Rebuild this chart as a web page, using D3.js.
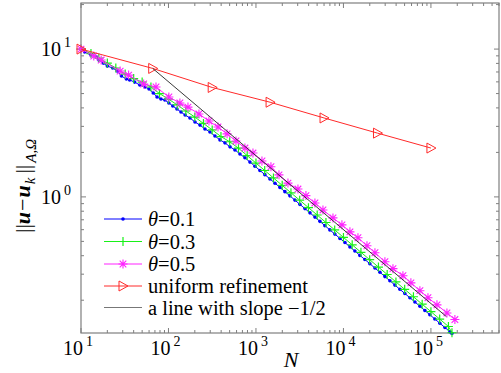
<!DOCTYPE html>
<html>
<head>
<meta charset="utf-8">
<script src="https://cdn.jsdelivr.net/npm/d3@7"></script>
</head>
<body style="margin:0">
<svg id="chart" width="501" height="373"></svg>
<script>
// adaptive refinement, theta = 0.1
const nTheta01 = [10, 11, 13, 15, 16, 18, 20, 23, 26, 29, 33, 36, 41, 47, 54, 60, 67, 74, 82, 91,
  101, 112, 125, 139, 155, 176, 201, 229, 261, 298, 340, 388, 442, 505, 575, 656, 748, 853,
  973, 1110, 1265, 1445, 1648, 1879, 2143, 2443, 2786, 3177, 3631, 4140, 4721, 5383, 6138, 6998,
  7980, 9120, 10400, 11860, 13520, 15420, 17580, 20050, 22910, 26120, 29790, 33960, 38730, 44160,
  50350, 57540, 65610, 74820, 85310, 97270, 110900, 126500, 144500, 164800, 173800];
const errTheta01 = [10.0, 9.55, 9.11, 8.83, 8.43, 8.04, 7.67, 7.45, 7.10, 6.57, 6.27, 6.18, 5.98, 5.71, 5.54, 5.37, 5.05, 4.74, 4.59, 4.52,
  4.32, 4.12, 3.93, 3.75, 3.58, 3.42, 3.21, 3.06, 2.88, 2.75, 2.58, 2.43, 2.32, 2.18, 2.08, 1.95, 1.84, 1.72,
  1.613, 1.510, 1.414, 1.323, 1.238, 1.159, 1.085, 1.016, 0.951, 0.890, 0.833, 0.780, 0.730, 0.683, 0.639, 0.598,
  0.560, 0.524, 0.491, 0.459, 0.430, 0.402, 0.377, 0.353, 0.330, 0.309, 0.289, 0.271, 0.253, 0.237,
  0.222, 0.2077, 0.1944, 0.1820, 0.1703, 0.1594, 0.1492, 0.1397, 0.1307, 0.1224, 0.119];

// theta = 0.3
const nTheta03 = [10, 13, 16, 20, 25, 32, 40, 50, 63, 79, 100, 126, 158, 200, 251, 316, 398, 501, 631, 794,
  1000, 1259, 1585, 1995, 2512, 3162, 3981, 5012, 6310, 7943, 10000, 12590, 15850, 19950, 25120, 31620,
  39810, 50120, 63100, 79430, 100000, 125900, 158500, 174000];
const errTheta03 = [10.0, 9.33, 8.69, 8.04, 7.45, 6.78, 6.32, 5.98, 5.54, 5.00, 4.59, 4.19, 3.81, 3.47, 3.14, 2.84, 2.56, 2.36, 2.135, 1.902,
  1.693, 1.509, 1.344, 1.197, 1.066, 0.950, 0.846, 0.754, 0.671, 0.598, 0.532, 0.474, 0.422, 0.376, 0.335, 0.2986,
  0.2660, 0.2369, 0.2110, 0.1879, 0.1674, 0.1491, 0.1328, 0.1205];

// theta = 0.5
const nTheta05 = [10, 14, 17, 28, 35, 52, 72, 101, 135, 167, 223, 290, 368, 467, 591, 748, 924, 1171, 1483, 1832,
  2321, 3020, 3726, 4720, 5830, 7590, 9610, 11860, 14650, 18570, 22910, 29790, 36810, 47860, 59020, 74820,
  92470, 117200, 152400, 187900];
const errTheta05 = [10.0, 8.97, 8.43, 7.10, 6.67, 5.81, 5.54, 4.74, 4.32, 4.05, 3.64, 3.26, 2.97, 2.67, 2.39, 2.14, 1.98, 1.75, 1.60, 1.41,
  1.24, 1.13, 1.02, 0.910, 0.816, 0.721, 0.647, 0.580, 0.529, 0.467, 0.419, 0.364, 0.327, 0.293, 0.262, 0.232,
  0.208, 0.186, 0.164, 0.148];

// uniform refinement
const nUniform = [10, 66, 316, 1450, 6000, 24500, 100000];
const errUniform = [10.0, 7.4, 5.5, 4.37, 3.42, 2.7, 2.14];

// reference line, slope -1/2
const nSlope = [66, 150000];
const errSlope = [7.4, 0.155];

const xMajor = [10, 100, 1000, 10000, 100000];
const xMajorExp = ["1", "2", "3", "4", "5"];
const yMajor = [1, 10];
const yMajorExp = ["0", "1"];

const legendLabels = ["θ=0.1", "θ=0.3", "θ=0.5", "uniform refinement", "a line with slope \u22121/2"];

const svg = d3.select("#chart");
const box = {left: 81, right: 499, top: 3, bottom: 333};
const axisColor = "#7f7f7f";

const x = d3.scaleLog().domain([10, 6e5]).range([box.left, box.right]);
const y = d3.scaleLog().domain([0.12, 20.5]).range([box.bottom, box.top]);

// minor ticks 2..9 of each decade inside the domain
function minorTicks(scale) {
  const [a, b] = scale.domain();
  const out = [];
  for (let e = Math.floor(Math.log10(a)); e <= Math.ceil(Math.log10(b)); e++) {
    for (let k = 2; k <= 9; k++) {
      const v = k * Math.pow(10, e);
      if (v >= a && v <= b) out.push(v);
    }
  }
  return out;
}

// tick marks only, drawn as plain lines from the scales (no axis text nodes)
function tickLines(values, scale, orient, pos, len) {
  const g = svg.append("g").attr("stroke", axisColor).attr("stroke-width", 1);
  values.forEach(v => {
    const p = scale(v);
    if (orient === "bottom") g.append("line").attr("x1", p).attr("x2", p).attr("y1", pos).attr("y2", pos - len);
    if (orient === "top") g.append("line").attr("x1", p).attr("x2", p).attr("y1", pos).attr("y2", pos + len);
    if (orient === "left") g.append("line").attr("y1", p).attr("y2", p).attr("x1", pos).attr("x2", pos + len);
    if (orient === "right") g.append("line").attr("y1", p).attr("y2", p).attr("x1", pos).attr("x2", pos - len);
  });
}

tickLines(xMajor, x, "bottom", box.bottom, 5);
tickLines(minorTicks(x), x, "bottom", box.bottom, 3);
tickLines(xMajor, x, "top", box.top, 5);
tickLines(minorTicks(x), x, "top", box.top, 3);
tickLines(yMajor, y, "left", box.left, 5);
tickLines(minorTicks(y), y, "left", box.left, 3);
tickLines(yMajor, y, "right", box.right, 5);
tickLines(minorTicks(y), y, "right", box.right, 3);

svg.append("rect")
  .attr("x", box.left).attr("y", box.top)
  .attr("width", box.right - box.left).attr("height", box.bottom - box.top)
  .attr("fill", "none").attr("stroke", axisColor).attr("stroke-width", 1.2);

// markers
const markers = {
  dot: g => g.append("circle").attr("r", 1.8).attr("fill", "#0000ff").attr("stroke", "none"),
  plus: g => g.append("path").attr("d", "M-4.5,0H4.5M0,-4.5V4.5").attr("fill", "none").attr("stroke-width", 1.2),
  star: g => g.append("path").attr("d", "M-4.5,0H4.5M0,-4.5V4.5M-3.3,-3.3L3.3,3.3M-3.3,3.3L3.3,-3.3").attr("fill", "none").attr("stroke-width", 1.1),
  tri: g => g.append("path").attr("d", "M-4,-5L5,0L-4,5Z").attr("fill", "none").attr("stroke-width", 1),
  none: g => g
};

const series = [
  {n: nTheta01, e: errTheta01, color: "#0000ff", marker: "dot"},
  {n: nTheta03, e: errTheta03, color: "#18f018", marker: "plus"},
  {n: nTheta05, e: errTheta05, color: "#ff22ff", marker: "star"},
  {n: nUniform, e: errUniform, color: "#ff2a2a", marker: "tri"},
  {n: nSlope, e: errSlope, color: "#222222", marker: "none"}
];

const line = d3.line().x(d => x(d[0])).y(d => y(d[1]));

series.forEach(s => {
  const pts = s.n.map((v, i) => [v, s.e[i]]);
  svg.append("path")
    .datum(pts)
    .attr("d", line)
    .attr("fill", "none")
    .attr("stroke", s.color)
    .attr("stroke-width", s.marker === "none" ? 0.9 : 1);
  if (s.marker !== "none") {
    svg.append("g").selectAll("g")
      .data(pts).join("g")
      .attr("transform", d => `translate(${x(d[0])},${y(d[1])})`)
      .attr("stroke", s.color)
      .each(function () { markers[s.marker](d3.select(this)); });
  }
});

// legend samples
const legendY = [219, 241.5, 264, 286, 307.5];
series.forEach((s, i) => {
  const row = svg.append("g").attr("transform", `translate(0,${legendY[i]})`);
  row.append("line").attr("x1", 104).attr("x2", 142).attr("y1", 0).attr("y2", 0)
    .attr("stroke", s.marker === "none" ? "#777" : s.color).attr("stroke-width", 1);
  const m = row.append("g").attr("transform", "translate(123,0)").attr("stroke", s.color);
  markers[s.marker](m);
});

// all texts last, each one a direct child of the svg with the serif face set inline
function addText(px, py, size) {
  return svg.append("text")
    .attr("x", px).attr("y", py)
    .attr("font-size", size)
    .style("font-family", "\"Liberation Serif\"");
}

function powerLabel(px, py, exp, anchor) {
  const t = addText(px, py, 20).attr("text-anchor", anchor);
  t.append("tspan").style("font-family", "\"Liberation Serif\"").text("10");
  t.append("tspan").style("font-family", "\"Liberation Serif\"")
    .attr("dy", -9).attr("dx", 3).attr("font-size", 14).text(exp);
}
xMajor.forEach((v, i) => powerLabel(x(v) - 3, 355, xMajorExp[i], "middle"));
yMajor.forEach((v, i) => powerLabel(71, y(v) + 7, yMajorExp[i], "end"));

addText(291, 367, 22)
  .attr("text-anchor", "middle")
  .style("font-style", "italic")
  .text("N");

const yTitle = addText(0, 0, 22)
  .attr("transform", "translate(30,186) rotate(-90)")
  .attr("text-anchor", "middle");
yTitle.append("tspan").text("||");
yTitle.append("tspan").style("font-weight", "bold").style("font-style", "italic").text("u");
yTitle.append("tspan").attr("dx", 1).text("\u2212");
yTitle.append("tspan").attr("dx", 1).style("font-weight", "bold").style("font-style", "italic").text("u");
yTitle.append("tspan").attr("font-size", 15).style("font-style", "italic").attr("dy", 5).attr("dx", 1).text("k");
yTitle.append("tspan").attr("dy", -5).attr("dx", 4).text("||");
yTitle.append("tspan").attr("font-size", 15).style("font-style", "italic").attr("dy", 6).attr("dx", 2).text("A,Ω");

legendLabels.forEach((label, i) => {
  const t = addText(148, legendY[i] + 7, 20.5);
  if (i < 3) {
    t.append("tspan").style("font-style", "italic").text("θ");
    t.append("tspan").text(label.slice(1));
  } else {
    t.text(label);
  }
});
</script>
</body>
</html>
